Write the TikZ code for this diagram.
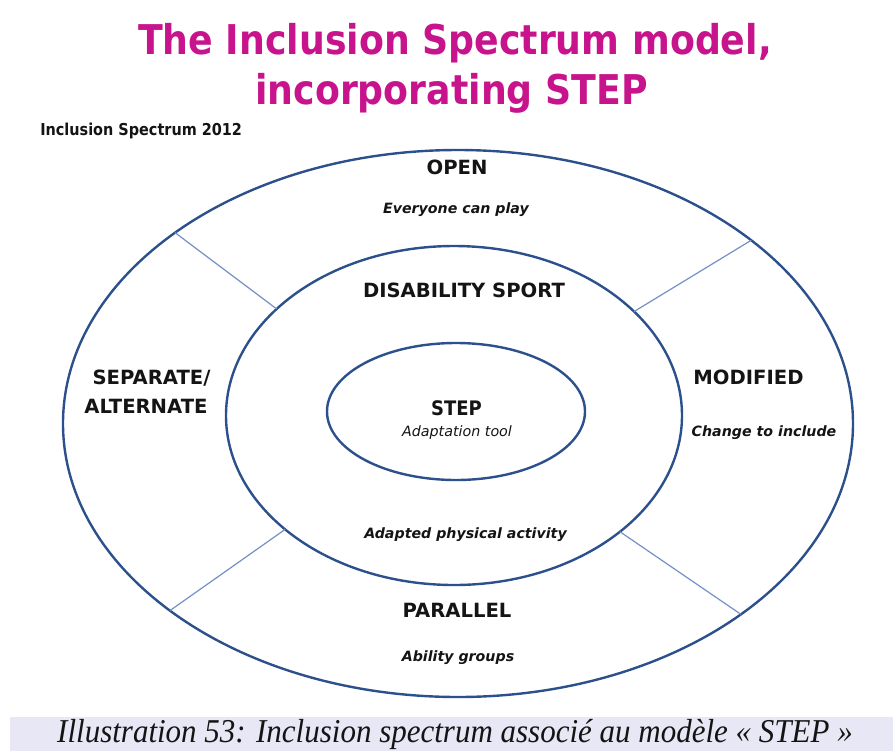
\documentclass[tikz,border=0pt]{standalone}
\usepackage{fontspec}
\setmainfont{DejaVu Sans}
\newfontfamily\titlefont[FakeStretch=0.885]{DejaVu Sans}
\newfontfamily\yearfont[FakeStretch=0.88]{DejaVu Sans}
\newfontfamily\stepfont[FakeStretch=0.9]{DejaVu Sans}
\newfontfamily\capfont[FakeStretch=0.93]{Liberation Serif}
\usetikzlibrary{shapes.geometric}
\definecolor{titlemag}{RGB}{200,20,140}
\definecolor{ringblue}{RGB}{44,80,140}
\definecolor{spokeblue}{RGB}{115,145,198}
\definecolor{capbg}{RGB}{231,231,245}
\definecolor{ink}{RGB}{20,20,20}
\begin{document}
\begin{tikzpicture}[x=0.75pt,y=-0.75pt,
  ring/.style={draw=ringblue, line width=1.8pt, ellipse, inner sep=0pt, outer sep=0pt},
  spoke/.style={draw=spokeblue, line width=0.9pt},
  titletxt/.style={font=\titlefont\bfseries\fontsize{30.75pt}{36pt}\selectfont, text=titlemag, anchor=base, inner sep=0pt},
  caps/.style={font=\bfseries\fontsize{14.7pt}{17pt}\selectfont, text=ink, anchor=base, inner sep=0pt},
  sub/.style={font=\bfseries\itshape\fontsize{10.65pt}{13pt}\selectfont, text=ink, anchor=base, inner sep=0pt},
  stepf/.style={font=\stepfont\bfseries\fontsize{15pt}{17pt}\selectfont, text=ink, anchor=base, inner sep=0pt},
  adapt/.style={font=\itshape\fontsize{10.7pt}{13pt}\selectfont, text=ink, anchor=base, inner sep=0pt},
  captext/.style={font=\capfont\itshape\fontsize{25pt}{28pt}\selectfont, text=ink, anchor=base, inner sep=0pt}
]
\useasboundingbox (0,0) rectangle (893,751);
% rings
\node[ring, minimum width=592.5pt, minimum height=410.25pt] (outer) at (458,423.5) {};
\node[ring, minimum width=342pt, minimum height=254.25pt] (middle) at (454,415.5) {};
\node[ring, minimum width=193.5pt, minimum height=102.75pt] (inner) at (456,411.5) {};
% spokes
\draw[spoke] (outer.146.6) -- (middle.149);
\draw[spoke] (outer.32) -- (middle.30.2);
\draw[spoke] (outer.213.1) -- (middle.214.6);
\draw[spoke] (outer.326.4) -- (middle.325.6);
% title
\node[titletxt] (t1) at (455,54) {The Inclusion Spectrum model,};
\node[titletxt] (t2) at (451.5,104) {incorporating STEP};
\node[font=\yearfont\bfseries\fontsize{12.3pt}{14pt}\selectfont, text=ink, anchor=base west, inner sep=0pt] (year) at (40,135) {Inclusion Spectrum 2012};
% labels
\node[caps] (open) at (457,174) {OPEN};
\node[sub] (openS) at (456,213) {Everyone can play};
\node[caps] (dis) at (464,297) {DISABILITY SPORT};
\node[caps] (sep1) at (151.5,384) {SEPARATE/};
\node[caps] (sep2) at (146,413) {ALTERNATE};
\node[caps] (mod) at (748.5,384) {MODIFIED};
\node[sub] (modS) at (764,436) {Change to include};
\node[stepf] (step) at (456.5,415) {STEP};
\node[adapt] (stepS) at (457,436) {Adaptation tool};
\node[sub] (apa) at (465.5,538) {Adapted physical activity};
\node[caps] (par) at (457,617) {PARALLEL};
\node[sub] (parS) at (458,661) {Ability groups};
% caption
\node[fill=capbg, draw=none, anchor=north west, inner sep=0pt, outer sep=0pt, minimum width=662.25pt, minimum height=25.5pt] (capbar) at (10,717) {};
\node[captext] (cap) at (455,742) {Illustration 53: Inclusion spectrum associé au modèle « STEP »};
\end{tikzpicture}
\end{document}
